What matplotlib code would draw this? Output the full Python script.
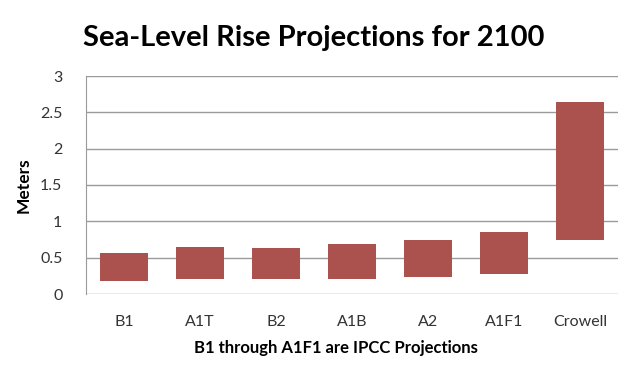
import matplotlib
matplotlib.use("Agg")
import matplotlib.pyplot as plt

# scenario ranges (meters)
scenarios = ["B1", "A1T", "B2", "A1B", "A2", "A1F1", "Crowell"]
low = [0.18, 0.21, 0.21, 0.21, 0.23, 0.27, 0.75]
high = [0.56, 0.65, 0.63, 0.69, 0.74, 0.85, 2.64]
yticks = [0, 0.5, 1, 1.5, 2, 2.5, 3]
ytick_labels = ["0", "0.5", "1", "1.5", "2", "2.5", "3"]

plt.rcParams['font.family'] = ['Lato', 'DejaVu Sans']

fig = plt.figure(figsize=(6.4, 3.8), dpi=100)
ax = fig.add_axes([86 / 640, 1 - 294 / 380, 532 / 640, 218 / 380])

heights = [h - l for h, l in zip(high, low)]
ax.bar(range(len(scenarios)), heights, bottom=low, width=0.64,
       color='#AB524E', zorder=3)

ax.set_xlim(-0.5, len(scenarios) - 0.5)
ax.set_ylim(0, 3)
ax.set_yticks(yticks)
ax.set_yticklabels(ytick_labels)
ax.set_xticks(range(len(scenarios)))
ax.set_xticklabels(scenarios)
ax.tick_params(axis='both', length=0, labelsize=11.5, colors='#333333')
ax.tick_params(axis='y', pad=17)
ax.tick_params(axis='x', pad=15)

ax.grid(axis='y', color='#9a9a9a', linewidth=1, zorder=0)
for side in ['top', 'right', 'bottom']:
    ax.spines[side].set_visible(False)
ax.spines['left'].set_color('#9a9a9a')

fig.text(314 / 640, 1 - 46 / 380, "Sea-Level Rise Projections for 2100",
         ha='center', va='baseline', fontsize=21, fontweight='bold')
fig.text(336 / 640, 1 - 353 / 380, "B1 through A1F1 are IPCC Projections",
         ha='center', va='baseline', fontsize=12, fontweight='bold')
fig.text(24 / 640, 1 - 185 / 380, "Meters", rotation=90,
         ha='center', va='center', fontsize=12.5, fontweight='bold')

fig.savefig("out.png", dpi=100)
